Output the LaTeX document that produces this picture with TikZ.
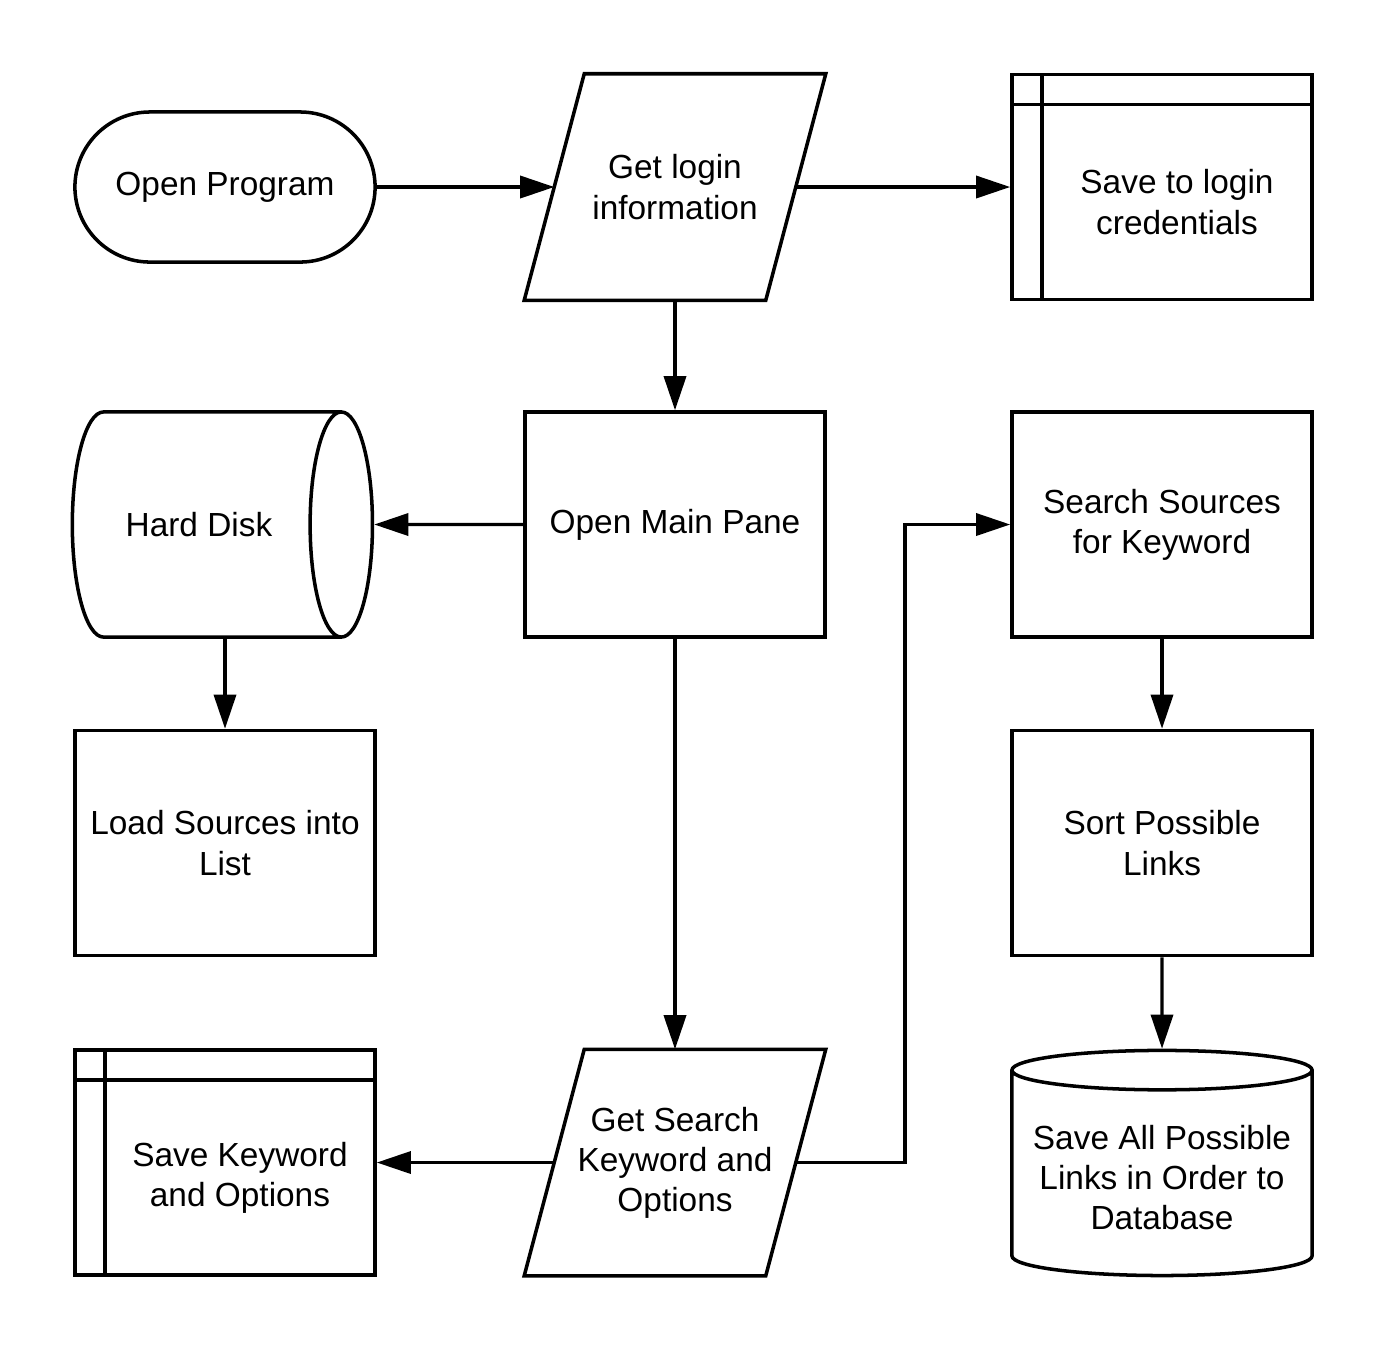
\documentclass[tikz,border=0pt]{standalone}
\usepackage{fontspec}
\setmainfont{Liberation Sans}
\usetikzlibrary{shapes.geometric,arrows.meta}

\tikzset{
  box/.style={draw, line width=1pt, minimum width=3cm, minimum height=2.25cm, align=center},
  term/.style={box, rounded corners=7.5mm, minimum height=1.5cm},
  io/.style={minimum width=2.4cm, minimum height=2.25cm, align=center,
    append after command={\pgfextra{\draw[line width=1pt]
      ([xshift=3mm]\tikzlastnode.north west) -- ([xshift=3mm]\tikzlastnode.north east)
      -- ([xshift=-3mm]\tikzlastnode.south east) -- ([xshift=-3mm]\tikzlastnode.south west) -- cycle;}}},
  store/.style={box, path picture={
      \draw[line width=1pt] ([xshift=3mm]path picture bounding box.north west) -- ([xshift=3mm]path picture bounding box.south west)
        ([yshift=-3mm]path picture bounding box.north west) -- ([yshift=-3mm]path picture bounding box.north east);}},
  disk/.style={draw, line width=1pt, cylinder, aspect=1.3, minimum width=2.25cm, minimum height=3cm, align=center},
  db/.style={draw, line width=1pt, cylinder, shape border rotate=90, aspect=0.14, minimum width=3cm, minimum height=2.25cm, align=center},
  flow/.style={line width=0.9pt, -{Triangle[length=9.7pt,width=6.3pt]}}
}

\begin{document}
\begin{tikzpicture}[x=0.01cm, y=-0.01cm, every node/.style={font=\fontsize{9.5}{11.4}\selectfont}]
  \useasboundingbox (0,0) rectangle (1388,1350);

  % top row
  \node[term] (prog) at (225,187) {Open Program};
  \node[io] (login) at (675,187) {Get login\\information};
  \node[store] (creds) at (1162,187) {};
  \node[align=center] (credstext) at ([shift={(15,15)}]creds.center) {Save to login\\credentials};

  % middle rows
  \node[disk] (disk) at (199,524.5) {Hard Disk};
  \node[box] (main) at (675,524.5) {Open Main Pane};
  \node[box] (src) at (1162,524.5) {Search Sources\\for Keyword};
  \node[box] (load) at (225,843) {Load Sources into\\List};
  \node[box] (sort) at (1162,843) {Sort Possible\\Links};

  % bottom row
  \node[store] (kwstore) at (225,1162.5) {};
  \node[align=center] (kwtext) at ([shift={(15,15)}]kwstore.center) {Save Keyword\\and Options};
  \node[io] (kw) at (675,1162.5) {Get Search\\Keyword and\\Options};
  \node[db] (db) at (1162,1177.5) {Save All Possible\\Links in Order to\\Database};

  \coordinate (turn) at (905,1162.5);

  \draw[flow] (prog.east) -- (login);
  \draw[flow] (login) -- (creds.west);
  \draw[flow] (login) -- (main);
  \draw[flow] (main) -- (disk);
  \draw[flow] (load.north |- disk.south) -- (load);
  \draw[flow] (main) -- (kw);
  \draw[flow] (kw) -- (kwstore);
  \draw[flow] (kw) -- (turn) |- (src);
  \draw[flow] (src) -- (sort);
  \draw[flow] (sort) -- (db);
\end{tikzpicture}
\end{document}
